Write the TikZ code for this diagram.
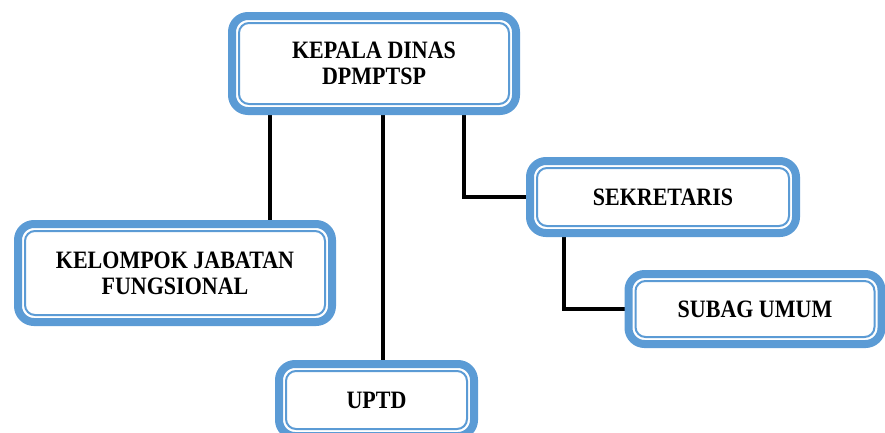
\documentclass[tikz,border=0pt]{standalone}
\usepackage{fontspec}
\setmainfont{Liberation Serif}[FakeStretch=0.88]
\usetikzlibrary{backgrounds}
\definecolor{boxblue}{HTML}{5B9BD5}
\tikzset{
  orgbox/.style={draw=boxblue, line width=8pt, fill=white, rounded corners=16pt,
    align=center, inner sep=0pt, font=\fontsize{25}{26}\selectfont\bfseries,
    path picture={\draw[boxblue, line width=2pt, rounded corners=10pt]
      ([shift={(7pt,7pt)}]path picture bounding box.south west) rectangle
      ([shift={(-7pt,-7pt)}]path picture bounding box.north east);}},
  link/.style={draw=black, line width=3.5pt}
}
\begin{document}
\begin{tikzpicture}[x=1pt,y=1pt]
\useasboundingbox (0,0) rectangle (885,-432);
\node[orgbox, minimum width=284pt, minimum height=95pt] (k) at (374,-63.5) {KEPALA DINAS\\DPMPTSP};
\node[orgbox, minimum width=314pt, minimum height=98pt] (kel) at (175,-273) {KELOMPOK JABATAN\\FUNGSIONAL};
\node[orgbox, minimum width=266pt, minimum height=72pt] (s) at (663,-197) {SEKRETARIS};
\node[orgbox, minimum width=253pt, minimum height=70pt] (sub) at (755,-309) {SUBAG UMUM};
\node[orgbox, minimum width=195pt, minimum height=72pt] (u) at (376.5,-400) {UPTD};
\coordinate (a1) at ([xshift=-104pt]k.south);
\coordinate (a2) at ([xshift=9pt]k.south);
\coordinate (a3) at ([xshift=90pt]k.south);
\coordinate (a4) at ([xshift=-99pt]s.south);
\begin{scope}[on background layer]
\draw[link] (a1) -- (a1 |- kel.north);
\draw[link] (a2) -- (a2 |- u.north);
\draw[link] (a3) |- (s.west);
\draw[link] (a4) |- (sub.west);
\end{scope}
\end{tikzpicture}
\end{document}
